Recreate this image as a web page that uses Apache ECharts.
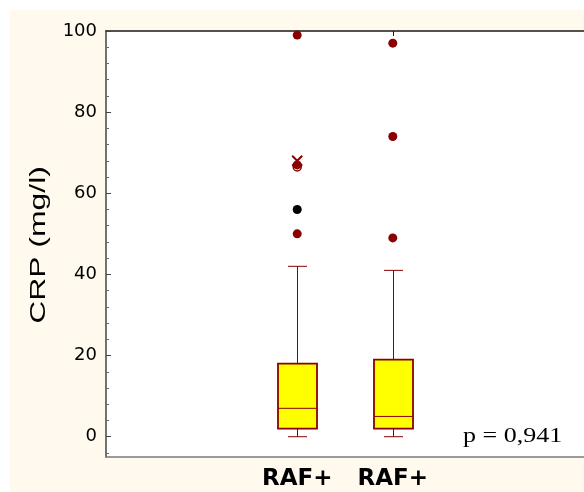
<!DOCTYPE html>
<html>
<head>
<meta charset="utf-8">
<script src="https://cdn.jsdelivr.net/npm/echarts@6/dist/echarts.min.js"></script>
<style>
html,body{margin:0;padding:0;background:#ffffff;}
#chart{width:584px;height:492px;}
</style>
</head>
<body>
<div id="chart"></div>
<script>
// ---- data ----
var categories = ['RAF+', 'RAF+'];
var catPos = [1, 2];
var whiskerLow = [0, 0];
var q1 = [2, 2];
var median = [7, 5];
var q3 = [18, 19];
var whiskerHigh = [42, 41];
// outliers (filled dark red circles)
var outliersCat1 = [99, 67, 50];
var outliersCat2 = [97, 74, 49];
// extremes / special markers (category 1)
var crossCat1 = [68];
var openCircleCat1 = [66.5];
var blackCat1 = [56];
var yTicks = [0, 20, 40, 60, 80, 100];
var yMinorTicks = [-4, 4, 8, 12, 16, 24, 28, 32, 36, 44, 48, 52, 56, 64, 68, 72, 76, 84, 88, 92, 96];
var yName = 'CRP (mg/l)';
var pText = 'p = 0,941';

var boxData = catPos.map(function (x, i) {
  return [x, whiskerLow[i], q1[i], median[i], q3[i], whiskerHigh[i]];
});
function pts(cat, arr) { return arr.map(function (v) { return [cat, v]; }); }

var RED = '#8b0000';
var SANS = '"DejaVu Sans", Arial, sans-serif';
var chart = echarts.init(document.getElementById('chart'));
var option = {
  animation: false,
  backgroundColor: '#ffffff',
  graphic: [
    { type: 'rect', z: -10, shape: { x: 10, y: 10, width: 574, height: 482 }, style: { fill: '#fff9ee' } },
    { type: 'text', x: 39, y: 245, rotation: Math.PI / 2, scaleX: 1.45, z: 50,
      style: { text: yName, x: 0, y: 0, align: 'center', verticalAlign: 'middle',
        font: '22px "Liberation Sans", Arial, sans-serif', fill: '#000' } },
    { type: 'text', x: 463, y: 437, scaleX: 1.3, z: 50,
      style: { text: pText, x: 0, y: 0, align: 'left', verticalAlign: 'middle',
        font: '20px "Liberation Serif", "Times New Roman", serif', fill: '#000' } }
  ],
  grid: { left: 106, top: 31, width: 480, height: 426, show: true, backgroundColor: '#ffffff', borderWidth: 0 },
  xAxis: [
    { type: 'value', position: 'bottom', min: -1, max: 4, interval: 1,
      axisLine: { show: true, onZero: false, lineStyle: { color: '#7a7a7a', width: 1.5 } },
      axisTick: { show: false }, splitLine: { show: false },
      axisLabel: { customValues: catPos, margin: 11,
        formatter: function (v) { var i = catPos.indexOf(v); return i >= 0 ? categories[i] : ''; },
        color: '#000', fontSize: 23, fontWeight: 'bold', fontFamily: SANS } },
    { type: 'value', position: 'top', min: -1, max: 4, interval: 1,
      axisLine: { show: true, onZero: false, lineStyle: { color: '#1a1a1a', width: 1.5 } },
      axisTick: { show: true, inside: true, length: 5, customValues: catPos, lineStyle: { color: '#1a1a1a' } },
      axisLabel: { show: false }, splitLine: { show: false } }
  ],
  yAxis: [
    { type: 'value', min: -5, max: 100, position: 'left',
      axisLine: { show: true, onZero: false, lineStyle: { color: '#444', width: 1.5 } },
      axisTick: { show: true, inside: true, length: 5, customValues: yTicks, lineStyle: { color: '#444' } },
      axisLabel: { customValues: yTicks, margin: 9, color: '#000', fontSize: 18, fontFamily: SANS },
      splitLine: { show: false } },
    { type: 'value', min: -5, max: 100, position: 'left', offset: 0,
      axisLine: { show: false, onZero: false },
      axisTick: { show: true, inside: true, length: 3, customValues: yMinorTicks, lineStyle: { color: '#666' } },
      axisLabel: { show: false }, splitLine: { show: false } }
  ],
  series: [
    { type: 'custom', xAxisIndex: 0, yAxisIndex: 0, z: 5,
      data: boxData,
      renderItem: function (params, api) {
        var x = api.value(0);
        var pLow = api.coord([x, api.value(1)]);
        var pQ1 = api.coord([x, api.value(2)]);
        var pMed = api.coord([x, api.value(3)]);
        var pQ3 = api.coord([x, api.value(4)]);
        var pHigh = api.coord([x, api.value(5)]);
        var cx = Math.round(pLow[0]) + 0.5;
        var hw = 19.5, cw = 9.5;
        var ls = { stroke: RED, lineWidth: 1 };
        return { type: 'group', children: [
          { type: 'line', shape: { x1: cx, y1: pHigh[1], x2: cx, y2: pQ3[1] }, style: ls },
          { type: 'line', shape: { x1: cx, y1: pQ1[1], x2: cx, y2: pLow[1] }, style: ls },
          { type: 'line', shape: { x1: cx - cw, y1: pHigh[1], x2: cx + cw, y2: pHigh[1] }, style: ls },
          { type: 'line', shape: { x1: cx - cw, y1: pLow[1], x2: cx + cw, y2: pLow[1] }, style: ls },
          { type: 'rect', shape: { x: cx - hw, y: pQ3[1], width: hw * 2, height: pQ1[1] - pQ3[1] },
            style: { fill: '#ffff00', stroke: RED, lineWidth: 1.8 } },
          { type: 'line', shape: { x1: cx - hw, y1: pMed[1], x2: cx + hw, y2: pMed[1] }, style: ls }
        ] };
      } },
    { type: 'scatter', symbol: 'circle', symbolSize: 9, z: 6,
      itemStyle: { color: RED, opacity: 1 }, data: pts(catPos[0], outliersCat1).concat(pts(catPos[1], outliersCat2)) },
    { type: 'scatter', symbol: 'circle', symbolSize: 8, z: 6,
      itemStyle: { color: 'none', borderColor: RED, borderWidth: 1.5, opacity: 1 }, data: pts(catPos[0], openCircleCat1) },
    { type: 'scatter', symbol: 'path://M0,0L10,10M10,0L0,10', symbolSize: 10, z: 7,
      itemStyle: { color: 'none', borderColor: RED, borderWidth: 2, opacity: 1 }, data: pts(catPos[0], crossCat1) },
    { type: 'scatter', symbol: 'circle', symbolSize: 9, z: 6,
      itemStyle: { color: '#000', opacity: 1 }, data: pts(catPos[0], blackCat1) }
  ]
};
chart.setOption(option);
</script>
</body>
</html>
